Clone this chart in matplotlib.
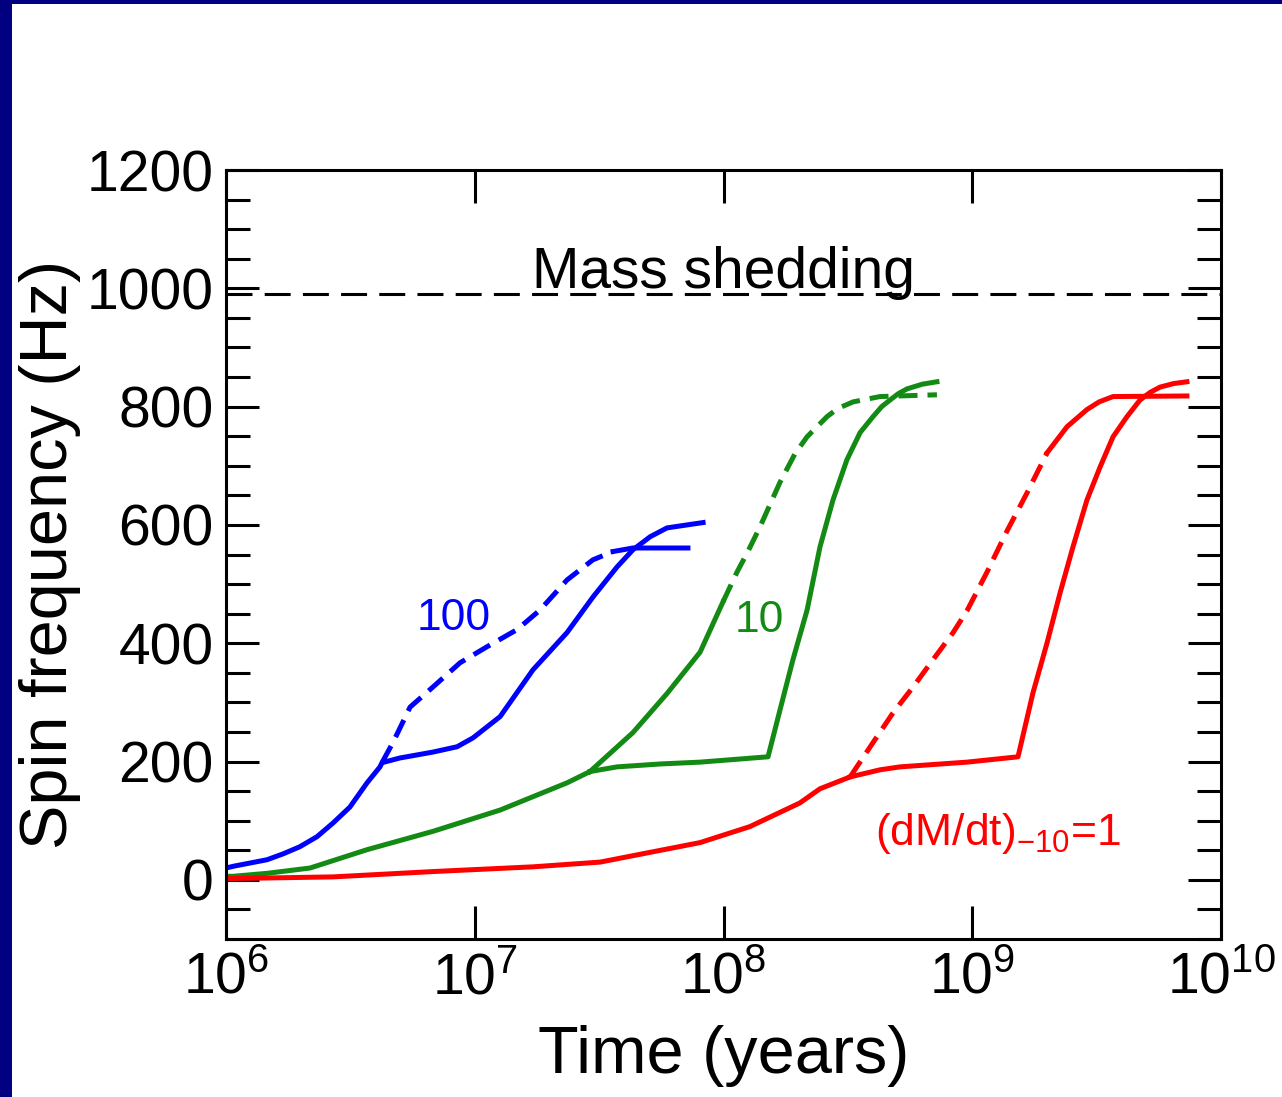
import numpy as np
import matplotlib
matplotlib.use("Agg")
import matplotlib.pyplot as plt
from matplotlib.patches import Rectangle
from matplotlib.ticker import FixedLocator, MultipleLocator, NullLocator

plt.rcParams['font.family'] = ['Liberation Sans', 'DejaVu Sans']
plt.rcParams['mathtext.fontset'] = 'custom'
plt.rcParams['mathtext.rm'] = 'Liberation Sans'
plt.rcParams['mathtext.it'] = 'Liberation Sans:italic'

# spin-up tracks, time as log10(years), frequency in Hz
# (dM/dt)_-10 = 100
blue_solid_logt = [6.0, 6.03, 6.165, 6.23, 6.297, 6.366, 6.430, 6.498, 6.567, 6.619,
                   6.627, 6.699, 6.832, 6.929, 6.993, 7.102, 7.234, 7.371, 7.475,
                   7.572, 7.636, 7.705, 7.773, 7.918]
blue_solid_hz = [20, 23, 34, 44, 56, 73, 96, 123, 164, 191,
                 198, 206, 216, 225, 240, 276, 355, 418, 478,
                 529, 558, 580, 595, 604]
blue_dash_logt = [6.627, 6.671, 6.740, 6.832, 6.941, 7.049, 7.170, 7.262, 7.371,
                  7.475, 7.556, 7.636, 7.857]
blue_dash_hz = [198, 232, 292, 326, 367, 394, 423, 456, 507, 541, 555, 561, 561]

# (dM/dt)_-10 = 10
green_common_logt = [6.0, 6.028, 6.165, 6.338, 6.567, 6.832, 7.102, 7.371, 7.463]
green_common_hz = [6, 6, 11, 20, 51, 82, 118, 164, 183]
green_solid_logt = [7.463, 7.572, 7.750, 7.906, 8.179, 8.227, 8.279, 8.336, 8.388,
                    8.440, 8.496, 8.549, 8.601, 8.636, 8.669, 8.703, 8.738, 8.800,
                    8.858]
green_solid_hz = [183, 191, 196, 199, 208, 287, 372, 456, 563,
                  642, 710, 756, 783, 800, 811, 822, 830, 838,
                  842]
green_dash_logt = [7.463, 7.636, 7.773, 7.906, 7.998, 8.054, 8.098, 8.147, 8.195,
                   8.227, 8.287, 8.336, 8.416, 8.460, 8.521, 8.629, 8.858]
green_dash_hz = [183, 249, 315, 385, 470, 520, 555, 597, 642,
                 672, 720, 749, 783, 797, 808, 817, 820]

# (dM/dt)_-10 = 1
red_common_logt = [6.0, 6.43, 6.832, 7.234, 7.504, 7.906, 8.106, 8.307, 8.388, 8.509]
red_common_hz = [2, 5, 14, 22, 30, 63, 90, 130, 154, 174]
red_solid_logt = [8.509, 8.629, 8.710, 8.979, 9.184, 9.244, 9.301, 9.353, 9.405,
                  9.461, 9.514, 9.566, 9.622, 9.674, 9.715, 9.755, 9.810, 9.863]
red_solid_hz = [174, 186, 191, 199, 208, 316, 401, 485, 563,
                642, 698, 749, 783, 811, 824, 833, 839, 842]
red_dash_logt = [8.509, 8.601, 8.681, 8.762, 8.842, 8.923, 8.979, 9.059, 9.140,
                 9.220, 9.301, 9.381, 9.461, 9.510, 9.566, 9.863]
red_dash_hz = [174, 232, 282, 326, 372, 418, 455, 520, 590,
               654, 722, 766, 795, 808, 817, 818]

mass_shedding_hz = 990

BLUE = '#0000ff'
GREEN = '#138a13'
RED = '#ff0000'
LW = 3.6

fig = plt.figure(figsize=(12.82, 10.97), dpi=100, facecolor='white')
# dark frame along the top and left edge
fig.patches.append(Rectangle((0, 0), 12 / 1282, 1, transform=fig.transFigure,
                             facecolor='#000080', edgecolor='none', zorder=-1))
fig.patches.append(Rectangle((0, 1 - 4 / 1097), 1, 4 / 1097, transform=fig.transFigure,
                             facecolor='#000080', edgecolor='none', zorder=-1))

ax = fig.add_axes([226 / 1282, 1 - 939 / 1097, 995 / 1282, 769 / 1097])


def track(logt, hz, color, ls='-', solid_below=None, solid_above=None):
    t = 10 ** np.asarray(logt)
    f = np.asarray(hz, dtype=float)
    if ls == '-':
        ax.plot(t, f, color=color, lw=LW, solid_joinstyle='round')
        return
    dash_mask = np.ones(len(t), dtype=bool)
    if solid_below is not None:
        m = t <= 10 ** solid_below
        ax.plot(t[m], f[m], color=color, lw=LW, solid_joinstyle='round')
        dash_mask &= t >= t[m][-1]
    if solid_above is not None:
        m = t >= 10 ** solid_above
        ax.plot(t[m], f[m], color=color, lw=LW, solid_joinstyle='round')
        dash_mask &= t <= t[m][0]
    ax.plot(t[dash_mask], f[dash_mask], color=color, lw=LW, dashes=(3.8, 2.0))


track(blue_solid_logt, blue_solid_hz, BLUE)
track(blue_dash_logt, blue_dash_hz, BLUE, ls='--', solid_above=7.55)

track(green_common_logt, green_common_hz, GREEN)
track(green_solid_logt, green_solid_hz, GREEN)
track(green_dash_logt, green_dash_hz, GREEN, ls='--', solid_below=8.0)

track(red_common_logt, red_common_hz, RED)
track(red_solid_logt, red_solid_hz, RED)
track(red_dash_logt, red_dash_hz, RED, ls='--', solid_above=9.30)

ax.axhline(mass_shedding_hz, color='black', lw=2.2, dashes=(8.5, 4.0))
ax.text(1e8, 1000, 'Mass shedding', fontsize=41, ha='center', va='baseline')

ax.text(10 ** 6.768, 423, '100', color=BLUE, fontsize=32, va='baseline')
ax.text(10 ** 8.046, 419, '10', color=GREEN, fontsize=32, va='baseline')
ax.text(10 ** 8.609, 59, r'(dM/dt)$_{-10}$=1', color=RED, fontsize=32, va='baseline')

ax.set_xscale('log')
ax.set_xlim(1e6, 1e10)
ax.set_ylim(-100, 1200)
decades = [6, 7, 8, 9, 10]
ax.xaxis.set_major_locator(FixedLocator([10.0 ** d for d in decades]))
ax.xaxis.set_minor_locator(NullLocator())
ax.set_xticklabels([r'$\mathregular{10^{%d}}$' % d for d in decades])
ax.yaxis.set_major_locator(MultipleLocator(200))
ax.yaxis.set_minor_locator(MultipleLocator(50))

ax.tick_params(which='both', direction='in', top=True, right=True, width=2.2)
ax.tick_params(which='major', length=24, labelsize=41, pad=9)
ax.tick_params(which='minor', length=17)
for s in ax.spines.values():
    s.set_linewidth(2.2)

ax.set_xlabel('Time (years)', fontsize=48)
ax.set_ylabel('Spin frequency (Hz)', fontsize=48)
ax.xaxis.set_label_coords(0.5, -0.112)
ax.yaxis.set_label_coords(-0.146, 0.5)

fig.savefig('out.png', dpi=100, facecolor=fig.get_facecolor())
